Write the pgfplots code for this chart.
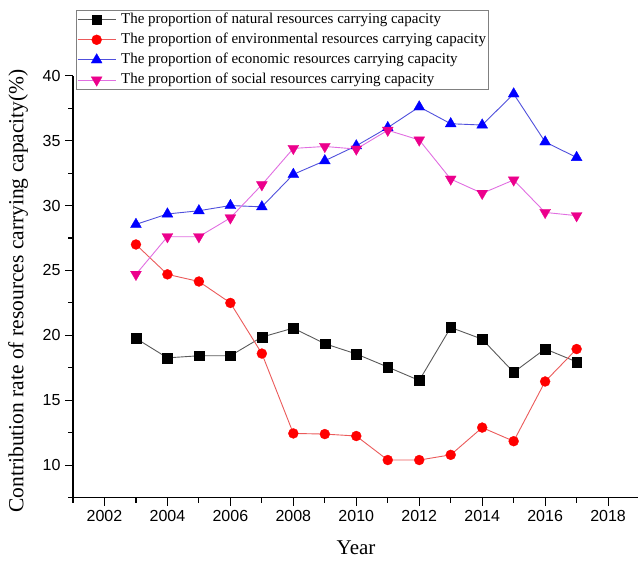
\documentclass[border=0pt]{standalone}
\usepackage{fontspec}
\setmainfont{Liberation Serif}
\setsansfont{Liberation Sans}
\usepackage{pgfplots}
\pgfplotsset{compat=1.18}
\definecolor{linek}{RGB}{90,90,90}
\definecolor{liner}{RGB}{235,90,90}
\definecolor{lineb}{RGB}{80,80,220}
\definecolor{linem}{RGB}{225,110,225}
\begin{document}
\begin{tikzpicture}
\begin{axis}[
  scale only axis,
  width=565pt, height=422pt,
  xmin=2001, xmax=2018.95,
  ymin=7.5, ymax=40,
  axis lines=left,
  axis line style={-, line width=1.3pt, black},
  xtick={2002,2004,...,2018},
  minor xtick={2001,2003,...,2019},
  ytick={10,15,...,40},
  minor ytick={7.5,12.5,...,37.5},
  tick align=outside,
  major tick length=8pt,
  minor tick length=5pt,
  every tick/.style={black, line width=1.1pt},
  /pgf/number format/assume math mode=true,
  /pgf/number format/set thousands separator={},
  tick label style={font=\sffamily\fontsize{16}{16}\selectfont},
  xticklabel style={yshift=-1pt},
  yticklabel style={xshift=-1pt},
  xlabel={Year},
  ylabel={Contribution rate of resources carrying capacity(\%)},
  xlabel style={font=\fontsize{21}{22}\selectfont, at={(axis description cs:0.501,-0.119)}, anchor=center},
  ylabel style={font=\fontsize{21.5}{22}\selectfont, at={(axis description cs:-0.097,0.49)}, anchor=center},
  legend style={
    at={(axis description cs:0.005,1.1556)}, anchor=north west,
    draw=gray, line width=0.8pt,
    font=\fontsize{15}{15}\selectfont,
    inner xsep=1pt, inner ysep=0.5pt,
    row sep=2.6pt,
    nodes={text height=10.5pt, text depth=3pt, inner ysep=2pt, inner xsep=1pt},
    /tikz/every odd column/.append style={column sep=4pt},
  },
  legend cell align=left,
  legend image code/.code={%
    \draw[mark repeat=2,mark phase=2] plot coordinates {(0pt,0pt) (19pt,0pt) (38pt,0pt)};},
]
\addplot[linek, line width=0.9pt, mark=square*, mark size=4.85pt, mark options={black, fill=black, line width=0.3pt}]
coordinates {
(2003,19.77) (2004,18.27) (2005,18.43) (2006,18.43) (2007,19.87) (2008,20.56)
(2009,19.36) (2010,18.57) (2011,17.56) (2012,16.53) (2013,20.61) (2014,19.71)
(2015,17.16) (2016,18.96) (2017,17.96)};
\addlegendentry{The proportion of natural resources carrying capacity}
\addplot[liner, line width=0.9pt, mark=*, mark size=5pt, mark options={red, fill=red, line width=0.3pt}]
coordinates {
(2003,27.0) (2004,24.7) (2005,24.15) (2006,22.5) (2007,18.6) (2008,12.45)
(2009,12.4) (2010,12.25) (2011,10.4) (2012,10.4) (2013,10.8) (2014,12.9)
(2015,11.85) (2016,16.45) (2017,18.95)};
\addlegendentry{The proportion of environmental resources carrying capacity}
\addplot[lineb, line width=0.9pt, mark=triangle*, mark size=6.3pt, mark options={blue, fill=blue, line width=0.3pt}]
coordinates {
(2003,28.55) (2004,29.35) (2005,29.6) (2006,30.0) (2007,29.9) (2008,32.4)
(2009,33.45) (2010,34.6) (2011,36.0) (2012,37.6) (2013,36.3) (2014,36.2)
(2015,38.6) (2016,34.9) (2017,33.7)};
\addlegendentry{The proportion of economic resources carrying capacity}
\addplot[linem, line width=0.9pt, mark=triangle*, mark size=6.3pt, mark options={magenta, fill=magenta, rotate=180, line width=0.3pt}]
coordinates {
(2003,24.7) (2004,27.6) (2005,27.6) (2006,29.05) (2007,31.6) (2008,34.4)
(2009,34.55) (2010,34.35) (2011,35.8) (2012,35.05) (2013,32.04) (2014,30.94)
(2015,31.97) (2016,29.47) (2017,29.22)};
\addlegendentry{The proportion of social resources carrying capacity}
\end{axis}
\pgfresetboundingbox
\path[use as bounding box] (-73pt,-64.3pt) rectangle (565pt,497.7pt);
\end{tikzpicture}
\end{document}
